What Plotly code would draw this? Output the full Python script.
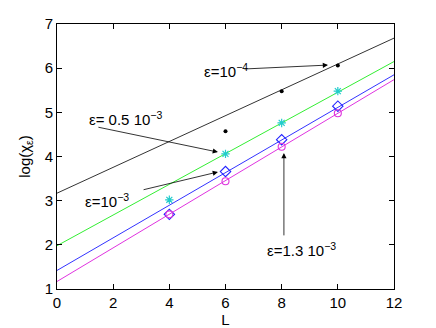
import plotly.graph_objects as go

# fitted lines, evaluated at the ends of the axis
L_fit = [0, 12]
fit_1e4 = [3.17, 6.68]
fit_05e3 = [1.98, 6.15]
fit_1e3 = [1.42, 5.85]
fit_13e3 = [1.17, 5.74]

# measured points
L_pts_1e4 = [6, 8, 10]
chi_1e4 = [4.57, 5.48, 6.06]
L_pts = [4, 6, 8, 10]
chi_05e3 = [3.02, 4.06, 4.76, 5.48]
chi_1e3 = [2.69, 3.66, 4.38, 5.14]
chi_13e3 = [2.69, 3.44, 4.22, 4.98]

x_ticks = [0, 2, 4, 6, 8, 10, 12]
y_ticks = [1, 2, 3, 4, 5, 6, 7]

fig = go.Figure()

# fit lines
for y, c in [(fit_1e4, "#333333"), (fit_05e3, "#33ee33"), (fit_1e3, "#3333ff"), (fit_13e3, "#e033e0")]:
    fig.add_trace(go.Scatter(x=L_fit, y=y, mode="lines", line=dict(color=c, width=1)))

fig.add_trace(go.Scatter(x=L_pts_1e4, y=chi_1e4, mode="markers",
                         marker=dict(symbol="circle", size=4, color="black")))
fig.add_trace(go.Scatter(x=L_pts, y=chi_05e3, mode="markers",
                         marker=dict(symbol="asterisk-open", size=7, color="#22cccc",
                                     line=dict(color="#22cccc", width=1.2))))
fig.add_trace(go.Scatter(x=L_pts, y=chi_1e3, mode="markers",
                         marker=dict(symbol="diamond-open", size=8, color="#2222ff",
                                     line=dict(color="#2222ff", width=1.1))))
fig.add_trace(go.Scatter(x=L_pts, y=chi_13e3, mode="markers",
                         marker=dict(symbol="circle-open", size=7, color="#dd33dd",
                                     line=dict(color="#dd33dd", width=1.1))))

font = dict(family="Liberation Sans, Arial, sans-serif", size=15, color="black")

# annotations: (text, text x, text y, arrow tip x, tip y, arrow tail x, tail y)
notes = [
    ("ε=10<sup>−4</sup>", 6.0, 5.95, 9.65, 6.07, 6.62, 5.98),
    ("ε= 0.5 10<sup>−3</sup>", 2.45, 4.86, 5.73, 4.10, 1.42, 4.67),
    ("ε=10<sup>−3</sup>", 1.78, 3.0, 5.73, 3.65, 3.03, 3.24),
    ("ε=1.3 10<sup>−3</sup>", 8.7, 1.9, 8.08, 4.08, 8.08, 2.18),
]
for text, tx, ty, hx, hy, ax, ay in notes:
    fig.add_annotation(x=hx, y=hy, ax=ax, ay=ay, xref="x", yref="y", axref="x", ayref="y",
                       text="", showarrow=True, arrowhead=2, arrowsize=1.3, arrowwidth=0.8,
                       arrowcolor="black")
    fig.add_annotation(x=tx, y=ty, xref="x", yref="y", text=text, showarrow=False, font=font)

axis = dict(showgrid=False, zeroline=False, showline=True, linecolor="black", linewidth=1,
            mirror="ticks", ticks="inside", ticklen=5, tickcolor="black", tickfont=font,
            automargin=False)

# page body adds an 8px offset, so the figure is sized to fit inside the window
fig.update_layout(
    width=428, height=320,
    margin=dict(l=49, r=42, t=16, b=39),
    paper_bgcolor="white", plot_bgcolor="white",
    showlegend=False,
    font=font,
    xaxis=dict(axis, range=[0, 12], tickvals=x_ticks,
               title=dict(text="L", font=font, standoff=0)),
    yaxis=dict(axis, range=[1, 7], tickvals=y_ticks,
               title=dict(text="log(χ<sub>ε</sub>)", font=font, standoff=10)),
)

fig.write_html("out.html")
